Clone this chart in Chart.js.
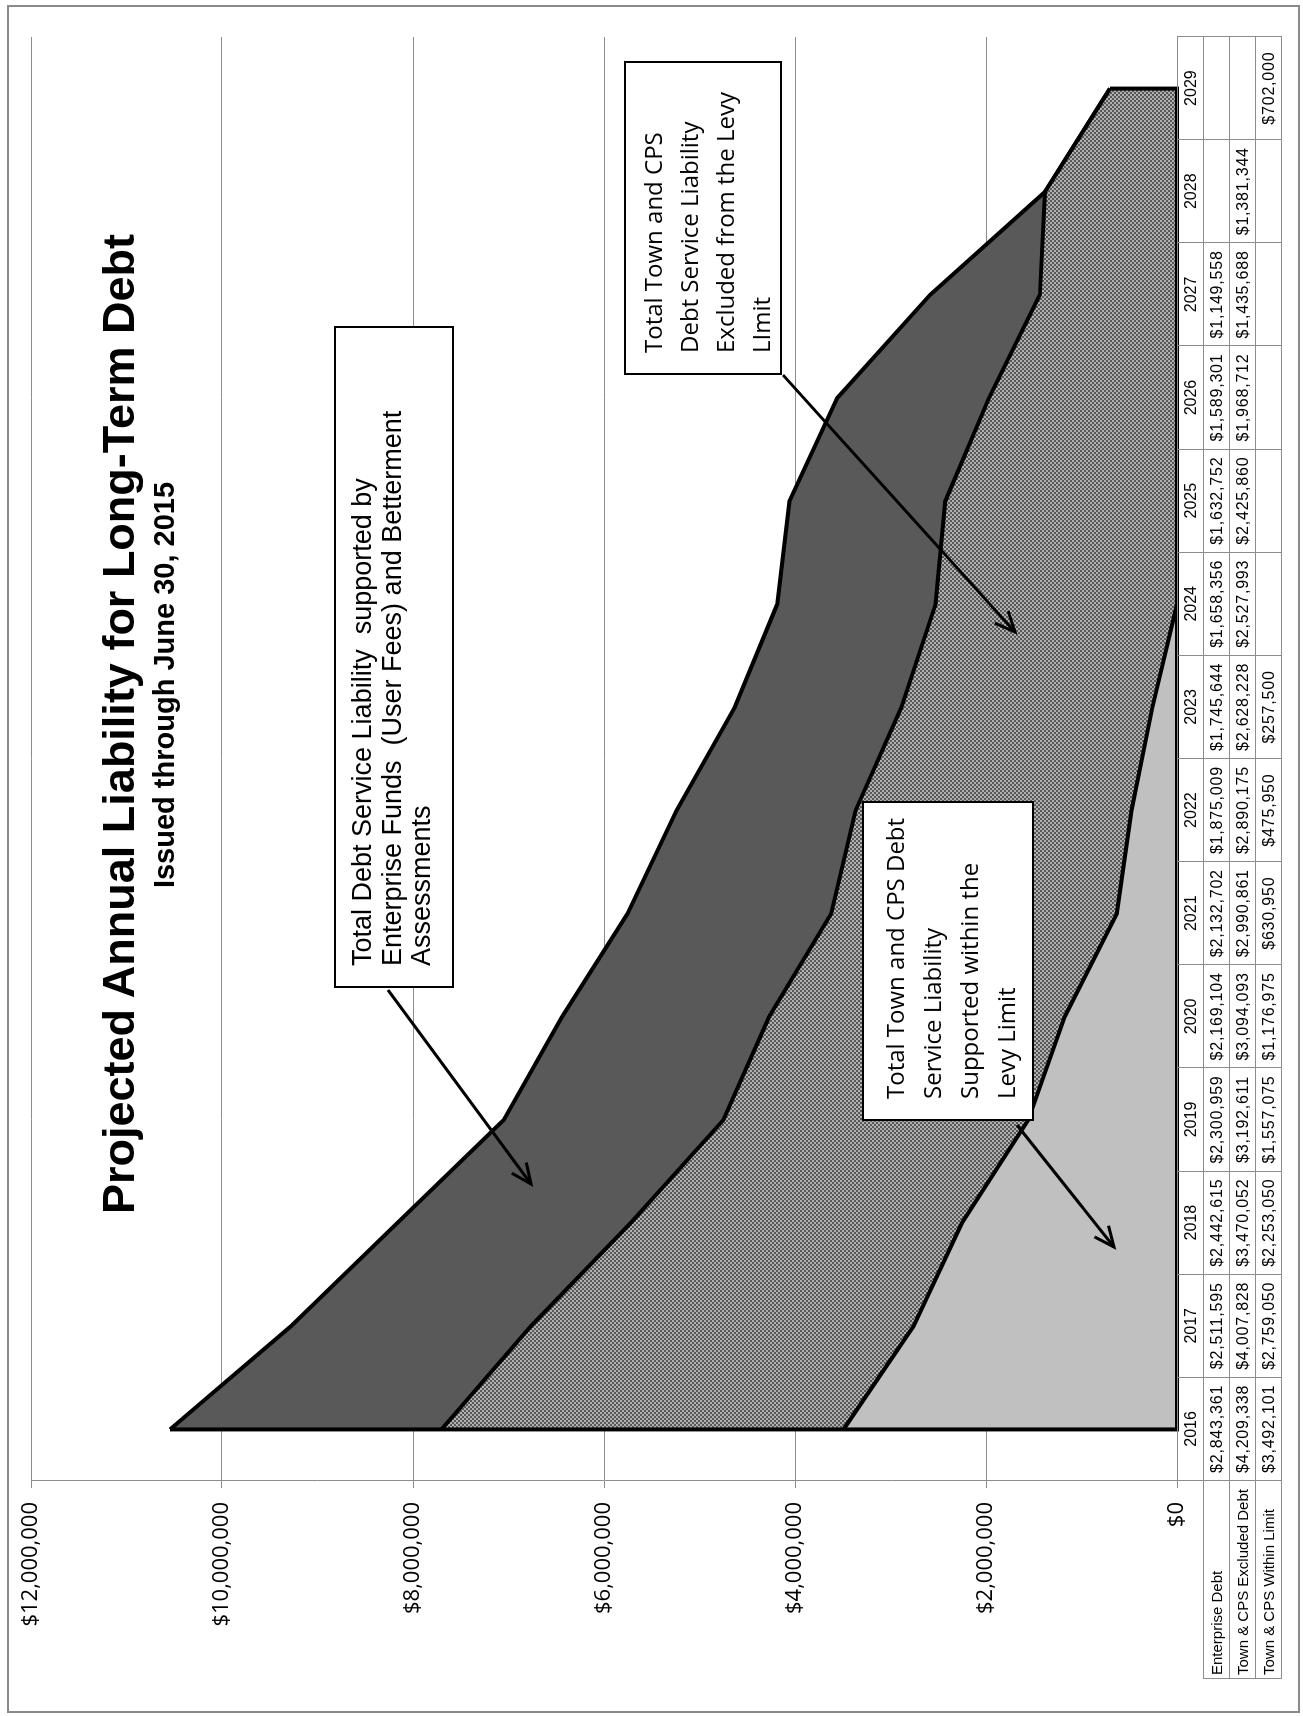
<!DOCTYPE html>
<html>
<head>
<meta charset="utf-8">
<script src="https://cdn.jsdelivr.net/npm/chart.js@4.4.1/dist/chart.umd.min.js"></script>
<style>
  html, body { margin: 0; padding: 0; background: #fff; overflow: hidden; }
  /* the sheet is laid out landscape and turned a quarter left */
  #sheet {
    position: absolute; left: 0; top: 0;
    width: 1716px; height: 1303px;
    transform-origin: 0 0;
    transform: translateY(1716px) rotate(-90deg);
    background: #fff;
  }
  #frame {
    position: absolute; left: 3px; top: 7px; width: 1704px; height: 1289px;
    border: 2px solid #8a8a8a;
  }
  #chart { position: absolute; left: 0; top: 0; }
  .title {
    position: absolute; left: 392px; top: 96px; width: 1200px;
    text-align: center; font: bold 45px/45px "Liberation Sans", Arial, sans-serif; color: #000;
  }
  .subtitle {
    position: absolute; left: 631px; top: 150px; width: 800px;
    text-align: center; font: bold 29px/29px "Liberation Sans", Arial, sans-serif; color: #000;
  }
  .box {
    position: absolute; background: #fff; border: 2px solid #000; box-sizing: border-box;
    color: #000; white-space: nowrap;
  }
  .b1 { left: 728px; top: 334px; width: 662px; height: 120px; padding: 12px 0 0 20px;
        font: 27px/29.6px "Liberation Sans", Arial, sans-serif; }
  .b2 { left: 1341px; top: 624px; width: 314px; height: 158px; padding: 9px 0 0 20px;
        font: 24px/36px "Open Sans", sans-serif; }
  .b3 { left: 595px; top: 862px; width: 320px; height: 172px; padding: 12px 0 0 20px;
        font: 24px/37px "Open Sans", sans-serif; }
  #arrows { position: absolute; left: 0; top: 0; }
  #table {
    position: absolute; left: 37px; top: 1177px;
    border-collapse: collapse; table-layout: fixed;
    font: 16px "Liberation Sans", Arial, sans-serif; color: #000;
  }
  #table td { border: 1px solid #8c8c8c; height: 25px; padding: 0; text-align: center; white-space: nowrap; overflow: hidden; }
  #table td.head { text-align: left; padding-left: 3px; font-size: 15px; }
  #table td.blank { border: none; }
  #table td.num { letter-spacing: 0.8px; }
</style>
</head>
<body>
<div id="sheet">
  <div id="frame"></div>
  <canvas id="chart" width="1716" height="1303"></canvas>
  <div class="title">Projected Annual Liability for Long-Term Debt</div>
  <div class="subtitle">Issued through June 30, 2015</div>
  <svg id="arrows" width="1716" height="1303"></svg>
  <div class="box b1">Total Debt Service Liability&nbsp; supported by<br>Enterprise Funds&nbsp; (User Fees) and Betterment<br>Assessments</div>
  <div class="box b2">Total Town and CPS<br>Debt Service Liability<br>Excluded from the Levy<br>LImit</div>
  <div class="box b3">Total Town and CPS Debt<br>Service Liability<br>Supported within the<br>Levy Limit</div>
  <table id="table"></table>
</div>

<script>
const years = ['2016', '2017', '2018', '2019', '2020', '2021', '2022', '2023', '2024', '2025', '2026', '2027', '2028', '2029'];

const enterpriseDebt = [2843361, 2511595, 2442615, 2300959, 2169104, 2132702, 1875009, 1745644, 1658356, 1632752, 1589301, 1149558, null, null];
const excludedDebt = [4209338, 4007828, 3470052, 3192611, 3094093, 2990861, 2890175, 2628228, 2527993, 2425860, 1968712, 1435688, 1381344, 702000];
const withinLimit = [3492101, 2759050, 2253050, 1557075, 1176975, 630950, 475950, 257500, null, null, null, null, null, null];

const yTicks = [0, 2000000, 4000000, 6000000, 8000000, 10000000, 12000000];

// callouts: text box is in the html, arrow runs from the box into its band
const arrows = [
  [726, 388, 532, 531],
  [1341, 783, 1084, 1015],
  [591, 1017, 469, 1114]
];

const money = v => '$' + Math.round(v).toLocaleString('en-US');

// dotted fill for the excluded band
function dotPattern() {
  const c = document.createElement('canvas');
  c.width = 4; c.height = 4;
  const g = c.getContext('2d');
  g.fillStyle = '#b0b0b0';
  g.fillRect(0, 0, 4, 4);
  g.fillStyle = '#585858';
  g.fillRect(0, 0, 2, 2);
  g.fillRect(2, 2, 2, 2);
  return g.createPattern(c, 'repeat');
}

// closes the stacked outline at both ends and along the base, like the excel area border
const areaEdges = {
  id: 'areaEdges',
  afterDatasetsDraw(chart) {
    const { ctx, scales: { x, y } } = chart;
    const last = years.length - 1;
    const total = i => (enterpriseDebt[i] ?? 0) + (excludedDebt[i] ?? 0) + (withinLimit[i] ?? 0);
    const base = y.getPixelForValue(0);
    ctx.save();
    ctx.strokeStyle = '#000';
    ctx.lineWidth = 4;
    ctx.lineJoin = 'miter';
    ctx.beginPath();
    ctx.moveTo(x.getPixelForValue(0), y.getPixelForValue(total(0)));
    ctx.lineTo(x.getPixelForValue(0), base);
    ctx.lineTo(x.getPixelForValue(last), base);
    ctx.lineTo(x.getPixelForValue(last), y.getPixelForValue(total(last)));
    ctx.stroke();
    ctx.restore();
  }
};

const zero = arr => arr.map(v => v ?? 0);

new Chart(document.getElementById('chart'), {
  type: 'line',
  data: {
    labels: years,
    datasets: [
      {
        label: 'Town & CPS Within Limit',
        data: zero(withinLimit),
        backgroundColor: '#c0c0c0',
        borderColor: '#000',
        borderWidth: 4,
        fill: 'origin'
      },
      {
        label: 'Town & CPS Excluded Debt',
        data: zero(excludedDebt),
        backgroundColor: dotPattern(),
        borderColor: '#000',
        borderWidth: 4,
        fill: '-1'
      },
      {
        label: 'Enterprise Debt',
        data: zero(enterpriseDebt),
        backgroundColor: '#595959',
        borderColor: '#000',
        borderWidth: 4,
        fill: '-1'
      }
    ]
  },
  options: {
    responsive: false,
    animation: false,
    devicePixelRatio: 1,
    layout: { padding: { left: 0, right: 37, top: 31, bottom: 0 } },
    elements: { point: { radius: 0 }, line: { tension: 0, borderJoinStyle: 'miter' } },
    plugins: {
      legend: { display: false },
      title: { display: false },
      tooltip: { enabled: false }
    },
    scales: {
      x: {
        type: 'category',
        offset: true,
        grid: { display: false },
        border: { display: false },
        ticks: { display: false },
        afterFit(s) { s.height = 1303 - 1177; }
      },
      y: {
        stacked: true,
        min: 0,
        max: 12000000,
        afterBuildTicks(s) { s.ticks = yTicks.map(v => ({ value: v })); },
        ticks: {
          callback: v => money(v),
          color: '#000',
          font: { family: 'Open Sans', size: 22 },
          padding: 14
        },
        grid: { color: '#8c8c8c', lineWidth: 1, tickLength: 7 },
        border: { color: '#8c8c8c', width: 1 },
        afterFit(s) { s.width = 235; }
      }
    }
  },
  plugins: [areaEdges]
});

// arrows
const svg = document.getElementById('arrows');
let paths = '';
arrows.forEach(([x1, y1, x2, y2]) => {
  const a = Math.atan2(y2 - y1, x2 - x1);
  const len = 22, spread = 0.42;
  const hx1 = x2 - len * Math.cos(a - spread), hy1 = y2 - len * Math.sin(a - spread);
  const hx2 = x2 - len * Math.cos(a + spread), hy2 = y2 - len * Math.sin(a + spread);
  paths += `<line x1="${x1}" y1="${y1}" x2="${x2}" y2="${y2}" stroke="#000" stroke-width="3"/>`;
  paths += `<polyline points="${hx1},${hy1} ${x2},${y2} ${hx2},${hy2}" fill="none" stroke="#000" stroke-width="3"/>`;
});
svg.innerHTML = paths;

// data table under the plot
// the 2029 excluded figure is printed on the within-limit line
const tableRows = [
  ['Enterprise Debt', enterpriseDebt],
  ['Town & CPS Excluded Debt', excludedDebt.map((v, i) => (i === years.length - 1 ? null : v))],
  ['Town & CPS Within Limit', withinLimit.map((v, i) => (i === years.length - 1 ? excludedDebt[i] : v))]
];

const colW = (1679 - 235) / years.length;
let html = '<colgroup><col style="width:198px">' + years.map(() => `<col style="width:${colW}px">`).join('') + '</colgroup>';
html += '<tr><td class="blank"></td>' + years.map(y => `<td>${y}</td>`).join('') + '</tr>';
tableRows.forEach(([name, vals]) => {
  html += `<tr><td class="head">${name}</td>` + vals.map(v => `<td class="num">${v == null ? '' : money(v)}</td>`).join('') + '</tr>';
});
const table = document.getElementById('table');
table.innerHTML = html;
table.style.width = (198 + colW * years.length) + 'px';
</script>
</body>
</html>
